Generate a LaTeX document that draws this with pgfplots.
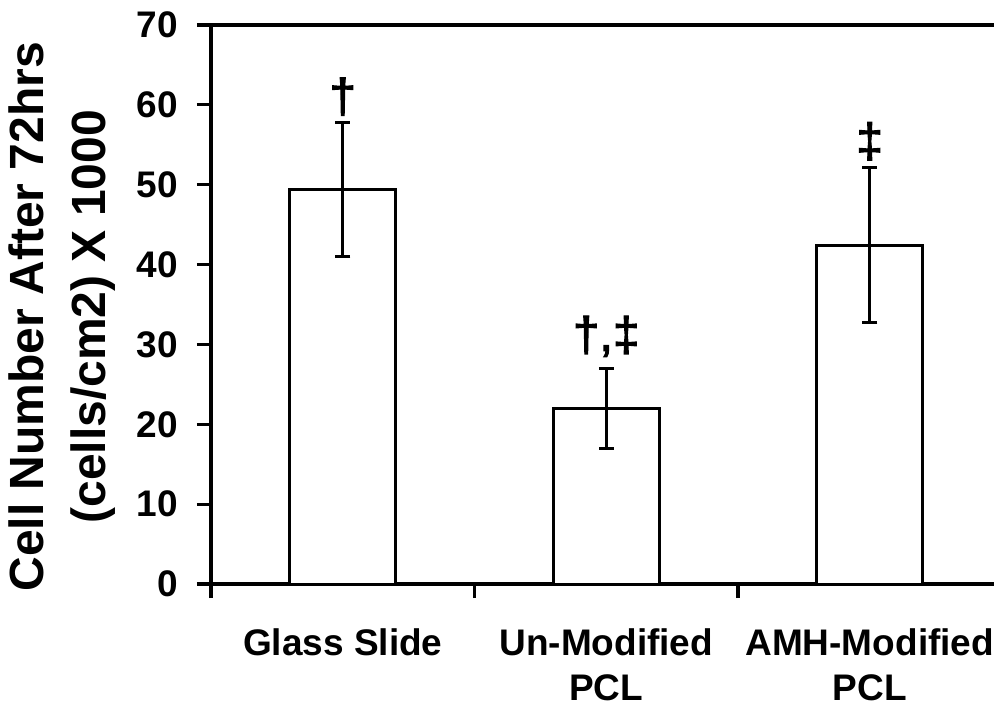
\documentclass[border=0pt]{standalone}
\usepackage{fontspec}
\setmainfont{Liberation Sans}
\newfontfamily\markfont{Liberation Sans}[FakeBold=2.5]
\usepackage{pgfplots}
\pgfplotsset{compat=1.18}

\begin{document}
\begin{tikzpicture}
  \begin{axis}[
      at={(0,0)}, anchor=south west,
      scale only axis,
      width=395.25pt, height=279.5pt,
      xmin=-0.5, xmax=2.5,
      ymin=0, ymax=70,
      ybar, bar width=53pt,
      axis line style={line width=1.6pt},
      xtick={0,1,2},
      xticklabels={Glass Slide, {Un-Modified\\PCL}, {AMH-Modified\\PCL}},
      minor xtick={-0.5,0.5,1.5,2.5},
      ytick={0,10,...,70},
      xtick pos=left, ytick pos=left,
      tick align=outside,
      major tick length=7pt, minor tick length=7pt,
      every major x tick/.append style={draw=none},
      tick style={line width=1.6pt, black},
      /pgf/number format/assume math mode=true,
      tick label style={font=\bfseries\fontsize{18.5}{22.5}\selectfont},
      xticklabel style={align=center, yshift=-12pt},
      yticklabel style={xshift=-6pt},
      ylabel={Cell Number After 72hrs\\(cells/cm2) X 1000},
      ylabel style={align=center, font=\bfseries\fontsize{24}{31}\selectfont,
        at={(axis description cs:-0.1203,0.478)}, anchor=south, inner sep=0pt},
      error bars/y dir=both, error bars/y explicit,
      error bars/error bar style={line width=1.5pt, black},
      error bars/error mark options={rotate=90, line width=1.5pt, mark size=3.75pt, black},
    ]
    % mean +- error
    \addplot[draw=black, fill=white, line width=1.5pt] coordinates {
      (0,49.4) +- (0,8.4)
      (1,22.0) +- (0,5.0)
      (2,42.4) +- (0,9.7)
    };
    \node[anchor=south, inner sep=0pt, font=\markfont\fontsize{24}{24}\selectfont] at (axis cs:0,58.6) {†};
    \node[anchor=south, inner sep=0pt, font=\markfont\fontsize{24}{24}\selectfont] at (axis cs:1,28.4) {†,‡};
    \node[anchor=south, inner sep=0pt, font=\markfont\fontsize{24}{24}\selectfont] at (axis cs:2,53.0) {‡};
  \end{axis}
  \pgfresetboundingbox
  \useasboundingbox (-105.5pt,-61pt) rectangle (391.5pt,292pt);
\end{tikzpicture}
\end{document}
